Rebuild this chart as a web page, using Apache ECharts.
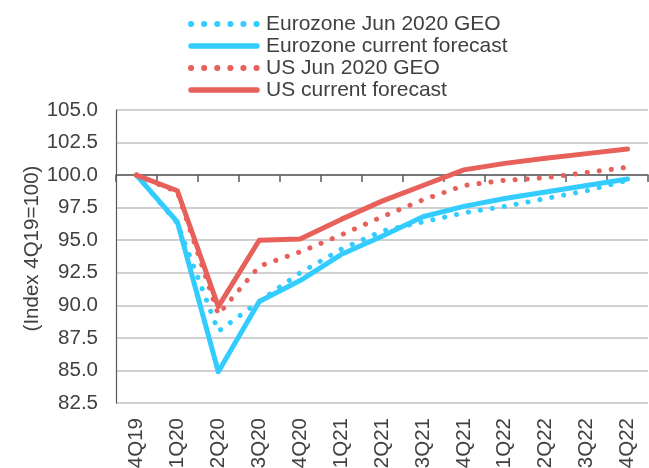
<!DOCTYPE html>
<html>
<head>
<meta charset="utf-8">
<script src="https://cdn.jsdelivr.net/npm/echarts@6/dist/echarts.min.js"></script>
<style>
html,body{margin:0;padding:0;background:#fff;}
#chart{width:649px;height:468px;}
</style>
</head>
<body>
<div id="chart"></div>
<script>
const categories = ['4Q19','1Q20','2Q20','3Q20','4Q20','1Q21','2Q21','3Q21','4Q21','1Q22','2Q22','3Q22','4Q22'];
const eurozoneJun = [100, 96.3, 88.0, 90.3, 92.5, 94.3, 95.7, 96.4, 97.1, 97.6, 98.2, 98.8, 99.6];
const eurozoneCurrent = [100, 96.4, 84.9, 90.3, 91.9, 93.9, 95.3, 96.8, 97.6, 98.2, 98.7, 99.2, 99.7];
const usJun = [100, 98.7, 89.3, 93.0, 94.1, 95.4, 96.8, 98.1, 99.2, 99.6, 99.8, 100.2, 100.6];
const usCurrent = [100, 98.8, 89.9, 95.0, 95.1, 96.6, 98.0, 99.2, 100.4, 100.9, 101.3, 101.65, 102.0];
const seriesNames = ['Eurozone Jun 2020 GEO', 'Eurozone current forecast', 'US Jun 2020 GEO', 'US current forecast'];
const yTicks = {min: 82.5, max: 105, interval: 2.5};
const yAxisName = '(Index 4Q19=100)';

const CYAN = '#33CCFF';
const RED = '#E8605A';
const TEXT = '#404040';
const FONT = 'Liberation Sans, Arial, sans-serif';
const dotted = {width: 5, type: [0.1, 12], cap: 'round'};
const solid = {width: 5, type: 'solid', cap: 'round', join: 'round'};

function mk(name, data, color, style) {
  return {
    name: name, type: 'line', data: data, symbol: 'none', showSymbol: false, smooth: false,
    xAxisIndex: 0, yAxisIndex: 0,
    lineStyle: Object.assign({color: color}, style),
    itemStyle: {color: color},
    emphasis: {disabled: true},
    animation: false
  };
}

const chart = echarts.init(document.getElementById('chart'));
chart.setOption({
  backgroundColor: '#fff',
  animation: false,
  textStyle: {fontFamily: FONT},
  grid: {left: 116, top: 110, right: 1, bottom: 65, containLabel: false, outerBoundsMode: 'none'},
  legend: {
    orient: 'vertical', left: 188, top: 13, padding: 0, itemGap: 0,
    itemWidth: 66, itemHeight: 14,
    itemStyle: {opacity: 0},
    lineStyle: {width: 'inherit'},
    textStyle: {fontSize: 21, color: TEXT, fontFamily: FONT, lineHeight: 22, padding: [0, 0, 0, 4]},
    data: [
      {name: seriesNames[0], itemStyle: {opacity: 0}, lineStyle: {color: CYAN, width: 6, type: [0.1, 13], cap: 'round'}},
      {name: seriesNames[1], itemStyle: {opacity: 0}, lineStyle: {color: CYAN, width: 5.5, type: 'solid', cap: 'round'}},
      {name: seriesNames[2], itemStyle: {opacity: 0}, lineStyle: {color: RED, width: 6, type: [0.1, 13], cap: 'round'}},
      {name: seriesNames[3], itemStyle: {opacity: 0}, lineStyle: {color: RED, width: 5.5, type: 'solid', cap: 'round'}}
    ]
  },
  xAxis: [
    {
      type: 'category', data: categories, boundaryGap: true, gridIndex: 0,
      axisLine: {show: false}, axisTick: {show: false},
      axisLabel: {rotate: 90, fontSize: 20.5, color: TEXT, margin: 15, fontFamily: FONT, interval: 0},
      splitLine: {show: false}
    },
    {
      type: 'category', data: categories, boundaryGap: true, gridIndex: 0,
      position: 'bottom', offset: -228,
      axisLine: {show: true, lineStyle: {color: '#595959', width: 1.5}},
      axisTick: {show: true, length: 7, alignWithLabel: false, interval: 0, lineStyle: {color: '#595959', width: 1.5}},
      axisLabel: {show: false},
      splitLine: {show: false}
    }
  ],
  yAxis: {
    type: 'value', min: yTicks.min, max: yTicks.max, interval: yTicks.interval,
    name: yAxisName, nameLocation: 'middle', nameGap: 73, nameRotate: 90, nameMoveOverlap: false,
    nameTextStyle: {fontSize: 20.5, color: TEXT, fontFamily: FONT, padding: [0, 0, 0, 16]},
    axisLine: {show: true, lineStyle: {color: '#595959', width: 1.2}},
    axisTick: {show: false},
    axisLabel: {fontSize: 20.5, color: TEXT, margin: 18, fontFamily: FONT,
      formatter: function (v) { return v.toFixed(1); }},
    splitLine: {show: true, lineStyle: {color: '#C0C0C0', width: 1.5}}
  },
  series: [
    mk(seriesNames[0], eurozoneJun, CYAN, dotted),
    mk(seriesNames[1], eurozoneCurrent, CYAN, solid),
    mk(seriesNames[2], usJun, RED, dotted),
    mk(seriesNames[3], usCurrent, RED, solid)
  ]
});
</script>
</body>
</html>
